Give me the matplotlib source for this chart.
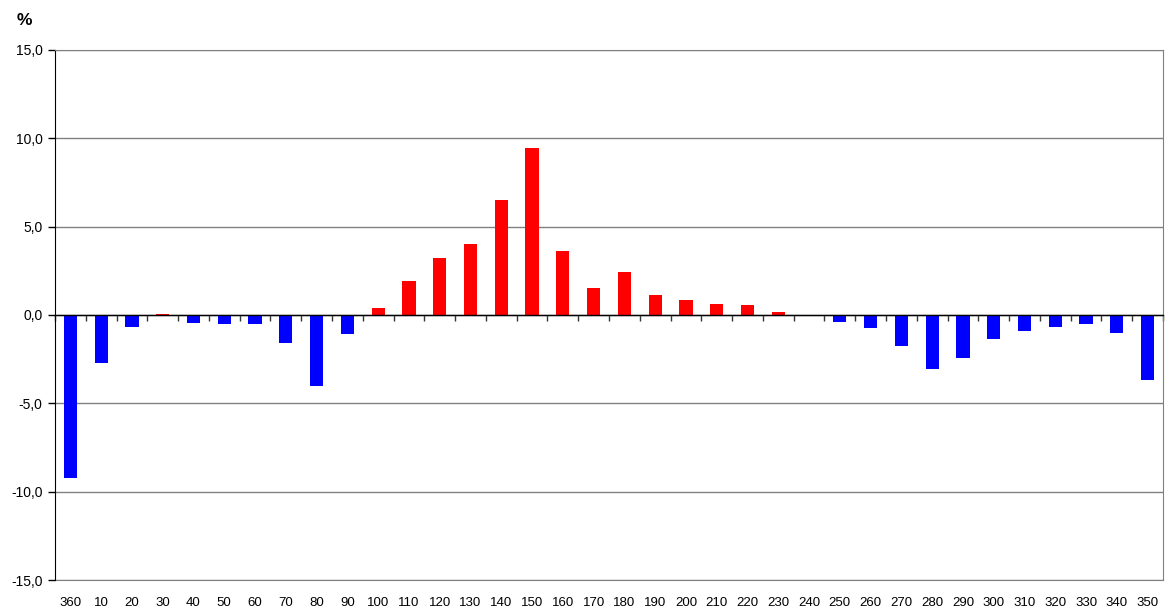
import matplotlib.pyplot as plt
from matplotlib.ticker import FuncFormatter


OUTPUT_PATH = (
    "out.png"
)


DIRECTIONS = [
    "360", "10", "20", "30", "40", "50", "60", "70", "80", "90",
    "100", "110", "120", "130", "140", "150", "160", "170", "180",
    "190", "200", "210", "220", "230", "240", "250", "260", "270",
    "280", "290", "300", "310", "320", "330", "340", "350"
]

VALUES = [
    -9.2, -2.7, -0.7, 0.05, -0.45, -0.5, -0.5, -1.6, -4.0, -1.05,
    0.4, 1.9, 3.2, 4.0, 6.5, 9.45, 3.62, 1.53, 2.45,
    1.13, 0.85, 0.62, 0.57, 0.17, 0.0, -0.4, -0.73, -1.75,
    -3.05, -2.43, -1.35, -0.9, -0.68, -0.5, -1.0, -3.7
]

Y_TICKS = [-15, -10, -5, 0, 5, 10, 15]



def plot_directions():

    plt.rcParams["font.family"] = ["Liberation Sans", "DejaVu Sans"]

    fig = plt.figure(
        figsize=(11.65, 6.09),
        dpi=100
    )

    ax = fig.add_axes(
        [55 / 1165, 29 / 609, 1108 / 1165, 530 / 609]
    )

    positions = list(range(len(VALUES)))

    colors = [
        "#ff0000" if v > 0 else "#0000ff"
        for v in VALUES
    ]

    ax.bar(
        positions,
        VALUES,
        width=0.43,
        color=colors,
        zorder=3
    )

    ax.set_xlim(-0.5, len(VALUES) - 0.5)
    ax.set_ylim(-15, 15)

    # grid lines
    ax.set_yticks(Y_TICKS)
    ax.yaxis.set_major_formatter(
        FuncFormatter(lambda v, p: f"{v:.1f}".replace(".", ","))
    )
    ax.grid(
        True,
        axis="y",
        color="#808080",
        linewidth=1,
        zorder=1
    )

    ax.tick_params(
        axis="y",
        direction="out",
        length=5,
        width=1,
        colors="black",
        labelsize=10,
        pad=4
    )

    # category axis crossing at zero
    ax.spines["bottom"].set_position(("data", 0))
    ax.spines["bottom"].set_color("black")
    ax.spines["bottom"].set_linewidth(1)
    ax.spines["bottom"].set_zorder(4)

    ax.set_xticks([p - 0.5 for p in positions] + [len(VALUES) - 0.5])
    ax.set_xticklabels([])
    ax.tick_params(
        axis="x",
        direction="out",
        length=4,
        width=1,
        colors="#333333"
    )

    ax.spines["left"].set_color("black")
    ax.spines["top"].set_color("#808080")
    ax.spines["right"].set_color("#808080")

    # labels along the bottom edge
    sec = ax.secondary_xaxis(0.0)
    sec.set_xticks(positions)
    sec.set_xticklabels(DIRECTIONS)
    sec.tick_params(
        length=0,
        labelsize=9.5,
        pad=12.5
    )
    sec.spines["bottom"].set_color("#808080")

    fig.text(
        17 / 1165,
        1 - 20.5 / 609,
        "%",
        fontsize=12.5,
        fontweight="bold",
        va="center",
        ha="left"
    )

    fig.savefig(
        OUTPUT_PATH,
        dpi=100
    )



if __name__ == "__main__":

    plot_directions()
